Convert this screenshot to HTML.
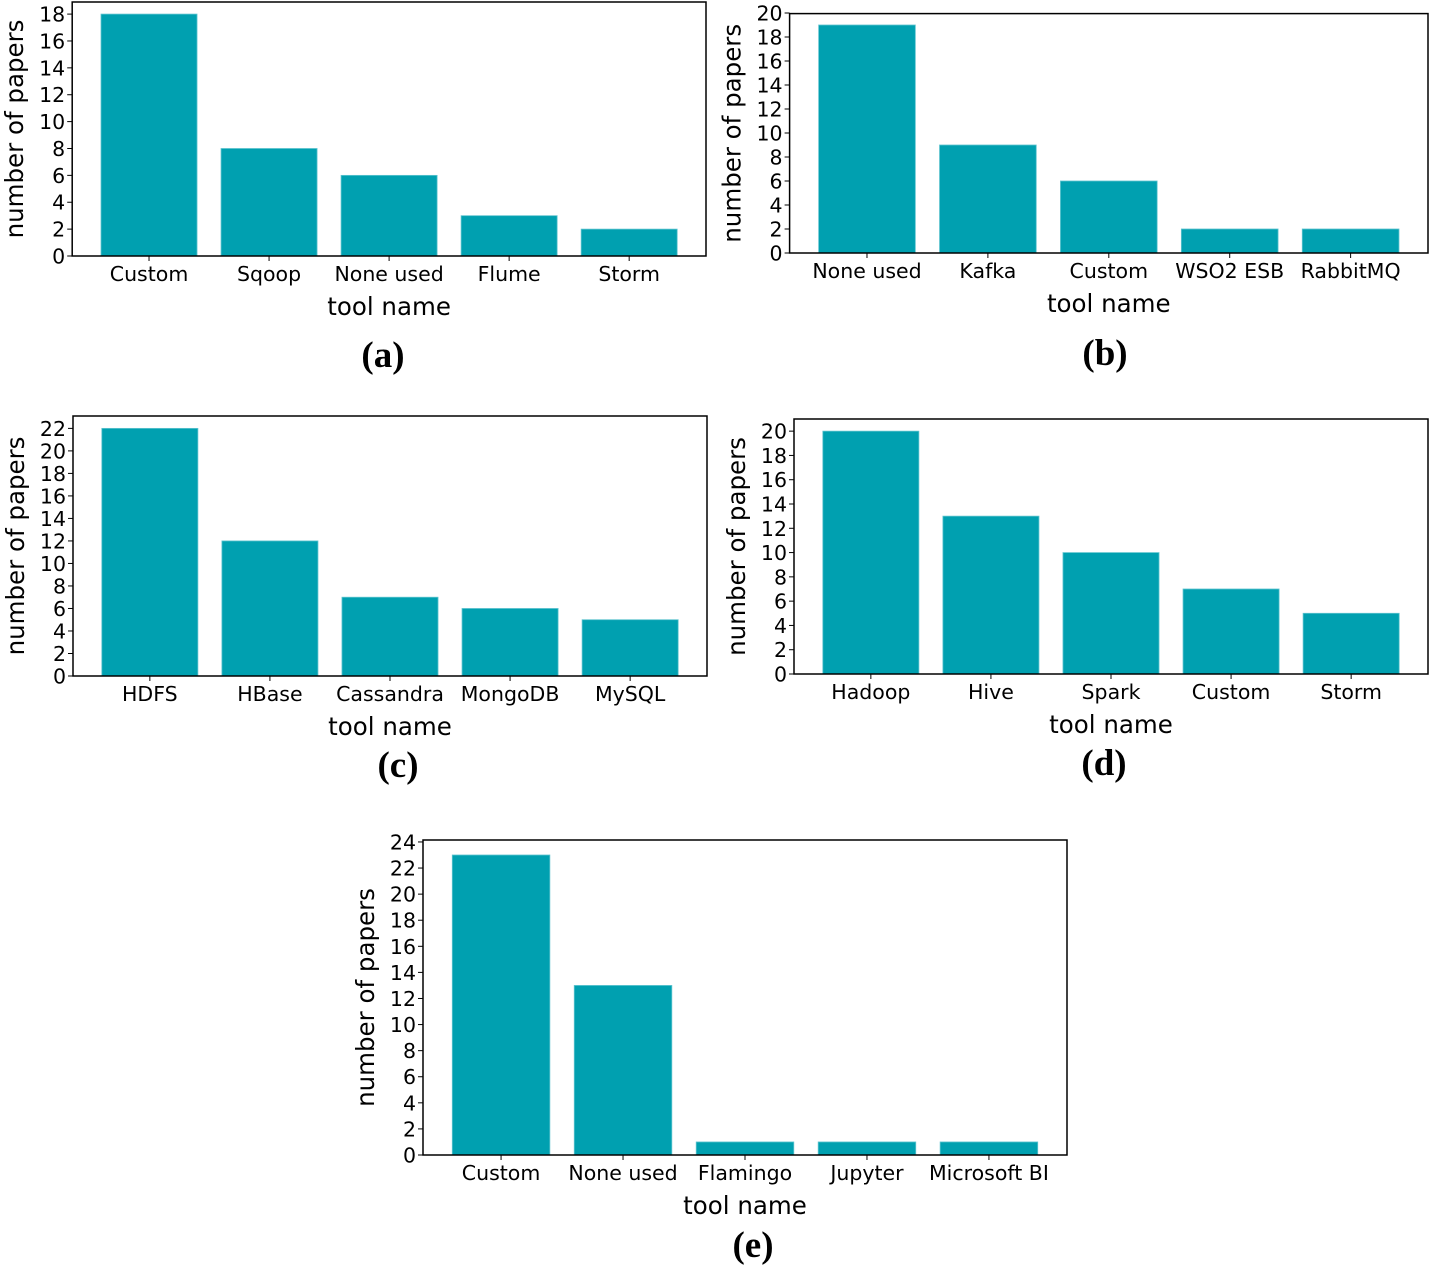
<!DOCTYPE html>
<html><head><meta charset="utf-8"><style>
html,body{margin:0;padding:0;background:#fff;}
svg{display:block;}
text{font-family:"DejaVu Sans","Liberation Sans",sans-serif;fill:#000;}
.cap{font-family:"Liberation Serif",serif;font-weight:bold;font-size:37px;}
</style></head><body>
<svg id="fig" width="1431" height="1266" viewBox="0 0 1431 1266" xmlns="http://www.w3.org/2000/svg"></svg>
<script>
const catsA = ["Custom","Sqoop","None used","Flume","Storm"];
const valsA = [18,8,6,3,2];
const ticksA = [0,2,4,6,8,10,12,14,16,18];
const catsB = ["None used","Kafka","Custom","WSO2 ESB","RabbitMQ"];
const valsB = [19,9,6,2,2];
const ticksB = [0,2,4,6,8,10,12,14,16,18,20];
const catsC = ["HDFS","HBase","Cassandra","MongoDB","MySQL"];
const valsC = [22,12,7,6,5];
const ticksC = [0,2,4,6,8,10,12,14,16,18,20,22];
const catsD = ["Hadoop","Hive","Spark","Custom","Storm"];
const valsD = [20,13,10,7,5];
const ticksD = [0,2,4,6,8,10,12,14,16,18,20];
const catsE = ["Custom","None used","Flamingo","Jupyter","Microsoft BI"];
const valsE = [23,13,1,1,1];
const ticksE = [0,2,4,6,8,10,12,14,16,18,20,22,24];

const NS="http://www.w3.org/2000/svg";
const svg=document.getElementById('fig');
function mk(tag,attrs,parent){const e=document.createElementNS(NS,tag);for(const k in attrs)e.setAttribute(k,attrs[k]);(parent||svg).appendChild(e);return e;}

function panel(id,cats,vals,ticks,L,R,T,B){
  const g=mk('g',{});
  
  
  const ymax=Math.max(...vals)*1.05;
  const x0=-0.64,x1=cats.length-1+0.64;
  const xs=v=>L+(v-x0)/(x1-x0)*(R-L);
  const ys=v=>B-v/ymax*(B-T);
  const step=xs(1)-xs(0);
  vals.forEach((v,i)=>{
    const r=mk('rect',{x:xs(i)-0.4*step,y:ys(v),width:0.8*step,height:B-ys(v),fill:'#00A0B0',stroke:'#5fc4cf','stroke-width':0.8},g);
    
    
    mk('line',{x1:xs(i),x2:xs(i),y1:B,y2:B+5,stroke:'#000','stroke-width':1},g);
    const t=mk('text',{x:xs(i),y:B+25,'text-anchor':'middle','font-size':20.5},g);
    t.textContent=cats[i];
    
    
  });
  ticks.forEach(tv=>{
    const y=ys(tv);
    mk('line',{x1:L-5,x2:L,y1:y,y2:y,stroke:'#000','stroke-width':1},g);
    const t=mk('text',{x:L-7,y:y+7.5,'text-anchor':'end','font-size':20.5},g);
    t.textContent=tv;
    
    
  });
  const fr=mk('rect',{x:L,y:T,width:R-L,height:B-T,fill:'none',stroke:'#000','stroke-width':1.5},g);
  
  
  const xl=mk('text',{x:(L+R)/2,y:B+59,'text-anchor':'middle','font-size':24.5},g);
  xl.textContent='tool name';
  
  
  const yc=(T+B)/2, yx=L-49;
  const yl=mk('text',{x:yx,y:yc,'text-anchor':'middle','font-size':24.5,transform:'rotate(-90 '+yx+' '+yc+')'},g);
  yl.textContent='number of papers';
  
  
  return g;
}
panel('a',catsA,valsA,ticksA,72.2,706,2,256);
panel('b',catsB,valsB,ticksB,789.6,1428,13.6,253);
panel('c',catsC,valsC,ticksC,73,707,416,676);
panel('d',catsD,valsD,ticksD,794,1428,419,674);
panel('e',catsE,valsE,ticksE,423,1067,840,1155);

const caps=[['(a)',383,367],['(b)',1105,365],['(c)',398,777],['(d)',1104,775],['(e)',753,1257]];
caps.forEach(c=>{
  const t=mk('text',{x:c[1],y:c[2],'text-anchor':'middle',class:'cap'});
  t.textContent=c[0];
  
  
});
</script>
</body></html>
